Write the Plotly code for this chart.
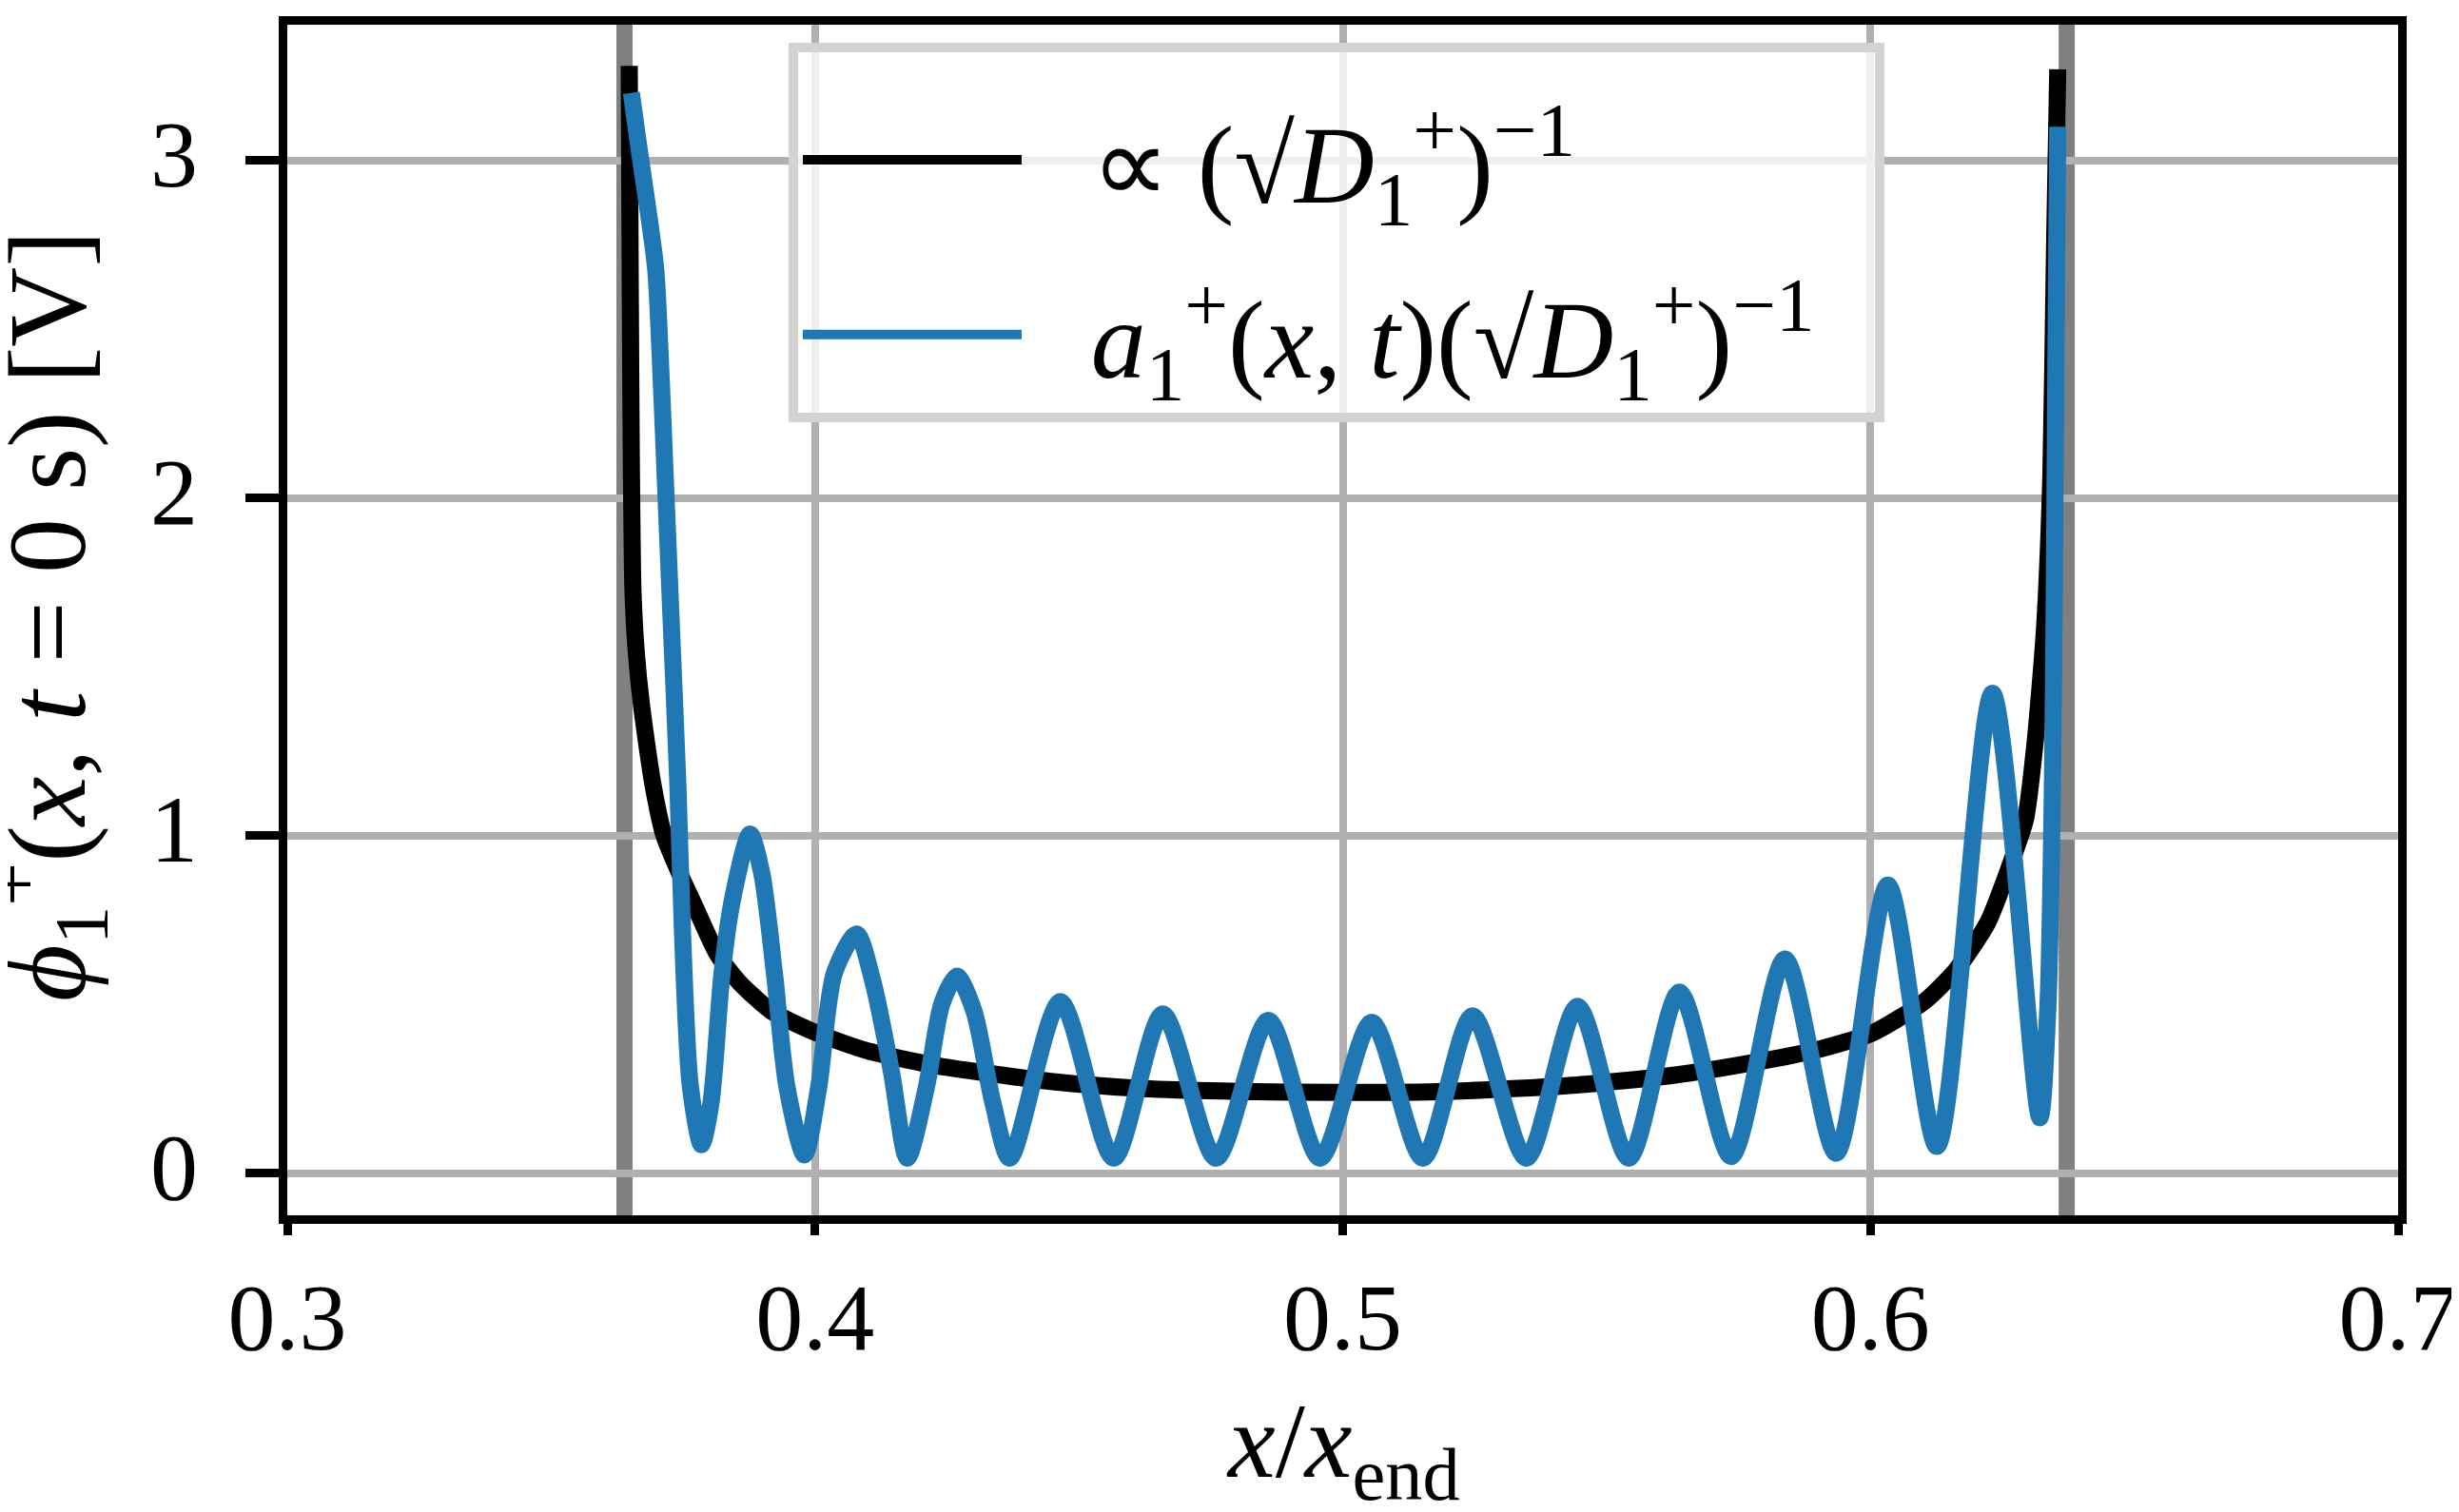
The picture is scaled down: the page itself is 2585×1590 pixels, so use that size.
import plotly.graph_objects as go

# black curve: prop. to (sqrt(D1+))^-1
x_env = [0.3648, 0.3650, 0.3652, 0.3655, 0.3661, 0.3671, 0.3692, 0.3714, 0.3743, 0.3773,
         0.3815, 0.3857, 0.3917, 0.4003, 0.4097, 0.4216, 0.4336, 0.4456, 0.4605, 0.4800,
         0.5000, 0.5200, 0.5444, 0.5623, 0.5773, 0.5893, 0.6004, 0.6102, 0.6162, 0.6222,
         0.6264, 0.6294, 0.6312, 0.6330, 0.6342, 0.6349, 0.6355]
y_env = [3.28, 2.60, 2.10, 1.73, 1.55, 1.39, 1.16, 1.00, 0.89, 0.789,
         0.649, 0.565, 0.481, 0.416, 0.364, 0.323, 0.295, 0.271, 0.253, 0.243,
         0.24, 0.243, 0.262, 0.29, 0.327, 0.364, 0.416, 0.509, 0.602, 0.742,
         0.91, 1.05, 1.275, 1.615, 2.07, 2.75, 3.27]

# blue curve: a1+(x,t) (sqrt(D1+))^-1 at t = 0 s
x_mode = [0.3652, 0.3668, 0.3683, 0.3698, 0.3707, 0.3716, 0.3728, 0.3740, 0.3749, 0.3764,
          0.3785, 0.3803, 0.3824, 0.3845, 0.3877, 0.3899, 0.3923, 0.3947, 0.3980, 0.4007,
          0.4037, 0.4079, 0.4109, 0.4145, 0.4175, 0.4211, 0.4241, 0.4269, 0.4301, 0.4337,
          0.4369, 0.4465, 0.4566, 0.4659, 0.4760, 0.4859, 0.4957, 0.5055, 0.5152, 0.5246,
          0.5348, 0.5445, 0.5542, 0.5638, 0.5736, 0.5838, 0.5935, 0.6033, 0.6126, 0.6231,
          0.6321, 0.6336, 0.6345, 0.6349, 0.6352, 0.6355]
y_mode = [3.20, 3.02, 2.86, 2.68, 2.41, 2.07, 1.615, 1.16, 0.71, 0.255,
          0.085, 0.21, 0.595, 0.822, 1.005, 0.89, 0.595, 0.255, 0.055, 0.255,
          0.595, 0.709, 0.573, 0.30, 0.045, 0.255, 0.505, 0.584, 0.482, 0.21,
          0.045, 0.509, 0.045, 0.472, 0.045, 0.453, 0.045, 0.448, 0.045, 0.467,
          0.045, 0.495, 0.045, 0.537, 0.05, 0.635, 0.06, 0.854, 0.08, 1.422,
          0.165, 0.482, 1.16, 1.84, 2.52, 3.10]

# domain borders (vertical lines)
x_border = [0.3639, 0.6372]

x_ticks = [0.3, 0.4, 0.5, 0.6, 0.7]
y_ticks = [0, 1, 2, 3]

font = "Liberation Serif"
gap = "\u2002\u200a"
sqrtD = "√<i>D</i><sub>1</sub><sup>+</sup>"

fig = go.Figure()
fig.add_trace(go.Scatter(x=x_env, y=y_env, mode="lines",
                         line=dict(color="black", width=18, shape="spline", smoothing=0.6),
                         legendgroup="a",
                         name=gap + "∝ (" + sqrtD + ")<sup>−1</sup>"))
fig.add_trace(go.Scatter(x=x_mode, y=y_mode, mode="lines",
                         line=dict(color="#1f77b4", width=18, shape="spline", smoothing=0.8),
                         legendgroup="b",
                         name=gap + "<i>a</i><sub>1</sub><sup>+</sup>(<i>x</i>, <i>t</i>)("
                              + sqrtD + ")<sup>−1</sup>\u2002"))

for xb in x_border:
    fig.add_shape(type="line", xref="x", yref="y domain", x0=xb, x1=xb, y0=0, y1=1,
                  line=dict(color="#808080", width=17), layer="below")

# axis titles
fig.add_annotation(text="<i>x</i>/<i>x</i><sub>end</sub>", xref="paper", yref="paper",
                   x=0.5, y=-0.2536, xanchor="center", yanchor="bottom", showarrow=False,
                   font=dict(size=112))
fig.add_annotation(text="<i>ϕ</i><sub>1</sub><sup>+</sup>(<i>x</i>, <i>t</i> = 0 s) [V]",
                   xref="paper", yref="paper", x=-0.114, y=0.503, textangle=-90,
                   xanchor="center", yanchor="middle", showarrow=False, font=dict(size=116))

fig.update_layout(
    width=2585, height=1590,
    margin=dict(l=294, r=72, t=9, b=320),
    paper_bgcolor="white", plot_bgcolor="white",
    font=dict(family=font, size=100, color="black"),
    legend=dict(x=0.2375, y=0.985, xanchor="left", yanchor="top",
                bgcolor="rgba(255,255,255,0.8)", bordercolor="#d3d3d3", borderwidth=10,
                itemwidth=230, tracegroupgap=30, font=dict(size=116),
                title=dict(text="\u2002", font=dict(size=24))),
)
fig.update_xaxes(range=[0.3, 0.7], tickvals=x_ticks, ticktext=[str(v) for v in x_ticks],
                 showgrid=True, gridcolor="#b0b0b0", gridwidth=8,
                 showline=True, linecolor="black", linewidth=9, mirror=True,
                 ticks="outside", ticklen=12, tickwidth=9, tickcolor="black",
                 zeroline=False)
fig.update_yaxes(range=[-0.124, 3.402], tickvals=y_ticks,
                 showgrid=True, gridcolor="#b0b0b0", gridwidth=8,
                 showline=True, linecolor="black", linewidth=9, mirror=True,
                 ticks="outside", ticklen=35, tickwidth=9, tickcolor="black",
                 ticklabelstandoff=30, ticklabelshift=-8, zeroline=False)
# full length x tick marks
fig.update_layout(xaxis2=dict(overlaying="x", anchor="y", side="bottom", range=[0.3, 0.7],
                              tickvals=x_ticks, showticklabels=False, showgrid=False,
                              showline=False, zeroline=False, ticks="outside", ticklen=35,
                              tickwidth=9, tickcolor="black"))

fig.write_html("out.html")
